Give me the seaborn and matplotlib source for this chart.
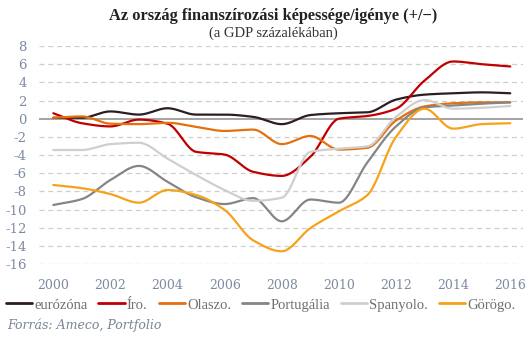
import numpy as np
import pandas as pd
import matplotlib
matplotlib.use("Agg")
import matplotlib.pyplot as plt
import seaborn as sns

years = list(range(2000, 2017))

eurozona = [0.1, 0.1, 0.8, 0.45, 1.15, 0.45, 0.45, 0.2, -0.6, 0.4, 0.6, 0.7, 2.1, 2.65, 2.8, 2.9, 2.8]
iro = [0.6, -0.5, -0.85, -0.1, -0.55, -3.65, -3.95, -5.85, -6.3, -4.2, 0.0, 0.3, 1.1, 4.2, 6.3, 6.0, 5.75]
olaszo = [0.1, 0.25, -0.55, -0.6, -0.45, -0.9, -1.35, -1.2, -2.8, -1.9, -3.4, -3.2, -0.2, 1.35, 1.7, 1.8, 1.8]
portugalia = [-9.5, -8.85, -6.75, -5.2, -6.95, -8.65, -9.4, -8.75, -11.3, -8.9, -9.25, -4.8, -0.85, 1.25, 1.45, 1.65, 1.8]
spanyolo = [-3.45, -3.45, -2.8, -2.65, -4.4, -6.2, -7.85, -9.05, -8.7, -3.65, -3.3, -3.05, 0.2, 2.05, 1.1, 1.2, 1.4]
gorogo = [-7.3, -7.65, -8.3, -9.25, -7.85, -8.4, -10.05, -13.4, -14.6, -12.05, -10.2, -8.4, -2.0, 1.1, -1.1, -0.6, -0.5]

series_names = ["eurózóna", "Íro.", "Olaszo.", "Portugália", "Spanyolo.", "Görögo."]
series_values = [eurozona, iro, olaszo, portugalia, spanyolo, gorogo]
colors = ["#2b1d22", "#c00000", "#e5700c", "#858585", "#cfcfcf", "#f6a21a"]

y_ticks = list(range(-16, 9, 2))
x_ticks = list(range(2000, 2017, 2))

title = "Az ország finanszírozási képessége/igénye (+/−)"
subtitle = "(a GDP százalékában)"
source = "Forrás: Ameco, Portfolio"


def pchip(x, y, xs):
    """Monotone cubic (Fritsch–Carlson) curve through the yearly values."""
    x = np.asarray(x, float)
    y = np.asarray(y, float)
    h = np.diff(x)
    delta = np.diff(y) / h
    d = np.zeros_like(y)
    for k in range(1, len(y) - 1):
        if delta[k - 1] * delta[k] <= 0:
            d[k] = 0.0
        else:
            w1 = 2 * h[k] + h[k - 1]
            w2 = h[k] + 2 * h[k - 1]
            d[k] = (w1 + w2) / (w1 / delta[k - 1] + w2 / delta[k])
    d[0] = delta[0]
    d[-1] = delta[-1]
    idx = np.clip(np.searchsorted(x, xs) - 1, 0, len(x) - 2)
    t = (xs - x[idx]) / h[idx]
    h00 = 2 * t**3 - 3 * t**2 + 1
    h10 = t**3 - 2 * t**2 + t
    h01 = -2 * t**3 + 3 * t**2
    h11 = t**3 - t**2
    return (h00 * y[idx] + h10 * h[idx] * d[idx]
            + h01 * y[idx + 1] + h11 * h[idx] * d[idx + 1])


xs = np.linspace(years[0], years[-1], 481)
frames = []
for name, vals in zip(series_names, series_values):
    frames.append(pd.DataFrame({"Év": xs, "Érték": pchip(years, vals, xs), "Ország": name}))
df = pd.concat(frames, ignore_index=True)

sns.set_theme(style="white")
plt.rcParams["font.family"] = ["DejaVu Serif"]
serif_narrow = ["Liberation Serif", "DejaVu Serif"]

fig = plt.figure(figsize=(5.30, 3.41), dpi=100)
ax = fig.add_axes([0.0736, 0.2258, 0.9134, 0.6392])

tick_color = "#7d8ba1"
for yv in y_ticks:
    if yv != 0:
        ax.axhline(yv, color="#cfcfcf", lw=0.9, ls=(0, (4, 3)), zorder=0)
ax.axhline(0, color="#8a8a8a", lw=1.1, zorder=1)

sns.lineplot(data=df, x="Év", y="Érték", hue="Ország", hue_order=series_names,
             palette=colors, linewidth=1.6, ax=ax, legend=False, sort=False,
             estimator=None)

ax.set_xlim(1999.5, 2016.45)
ax.set_ylim(-16, 8)
ax.set_xticks(x_ticks)
ax.set_yticks(y_ticks)
ax.set_xticklabels([str(v) for v in x_ticks])
ax.set_yticklabels([str(v) for v in y_ticks])
ax.tick_params(axis="x", length=0, pad=11, labelsize=9, labelcolor=tick_color)
ax.tick_params(axis="y", length=0, pad=9, labelsize=9.5, labelcolor=tick_color)
ax.set_xlabel("")
ax.set_ylabel("")
for s in ax.spines.values():
    s.set_visible(False)

handles = [plt.Line2D([], [], color=c, lw=2) for c in colors]
fig.legend(handles, series_names, loc="center left", bbox_to_anchor=(0.0, 0.1056),
           ncol=6, frameon=False, handlelength=1.8, handletextpad=0.15,
           columnspacing=0.75, borderaxespad=0.0,
           prop={"family": serif_narrow, "size": 10.5}, labelcolor="#6f6f6f")

fig.text(0.516, 0.952, title, ha="center", va="center", fontsize=11.8,
         fontweight="bold", color="#222222", family=serif_narrow)
fig.text(0.516, 0.902, subtitle, ha="center", va="center", fontsize=10.5,
         color="#333333", family=serif_narrow)
fig.text(0.013, 0.047, source, ha="left", va="center", fontsize=9,
         style="italic", color="#7a8596")

fig.savefig("out.png", dpi=100)
